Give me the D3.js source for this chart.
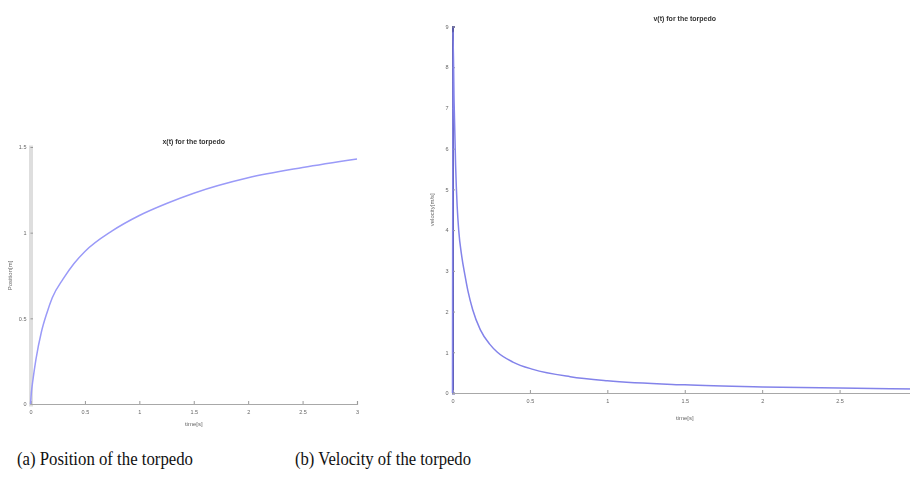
<!DOCTYPE html>
<html>
<head>
<meta charset="utf-8">
<script src="https://cdn.jsdelivr.net/npm/d3@7"></script>
<style>
  html, body { margin: 0; padding: 0; background: #fff; }
  svg { display: block; }
  .tick text { font-family: "Liberation Sans", Arial, sans-serif; font-size: 5.5px; fill: #666; }
</style>
</head>
<body>
<svg id="fig" width="910" height="479"></svg>
<script>
// Position of the torpedo over time
const posTime  = [0, 0.01, 0.02, 0.05, 0.1, 0.15, 0.2, 0.3, 0.4, 0.5, 0.75, 1, 1.25, 1.5, 2, 2.5, 3];
const posValue = [0, 0.08, 0.13, 0.26, 0.42, 0.53, 0.62, 0.73, 0.82, 0.89, 1.01, 1.1, 1.17, 1.23, 1.32, 1.38, 1.43];

// Velocity of the torpedo over time
const velTime  = [0, 0.003, 0.01, 0.02, 0.03, 0.04, 0.06, 0.08, 0.1, 0.13, 0.18, 0.24, 0.29, 0.39, 0.52, 0.76, 1, 1.5, 2, 2.5, 3];
const velValue = [0, 8.87, 7.2, 5.6, 4.6, 4.0, 3.35, 2.9, 2.5, 2.05, 1.55, 1.2, 1.0, 0.76, 0.58, 0.40, 0.30, 0.20, 0.15, 0.12, 0.1];

// Tick labels
const posTimeTicks = [0, 0.5, 1, 1.5, 2, 2.5, 3];
const velTimeTicks = [0, 0.5, 1, 1.5, 2, 2.5];
const posTicks  = [0, 0.5, 1, 1.5];
const velTicks  = [0, 1, 2, 3, 4, 5, 6, 7, 8, 9];

// Captions
const captions = ["(a) Position of the torpedo", "(b) Velocity of the torpedo"];

const svg = d3.select("#fig");

const defs = svg.append("defs");
defs.append("filter").attr("id", "soft")
  .append("feGaussianBlur").attr("stdDeviation", 0.55);

function drawPanel(cfg) {
  const g = svg.append("g").attr("filter", "url(#soft)");
  const x = d3.scaleLinear().domain([0, 3]).range([cfg.left, cfg.right]);
  const y = d3.scaleLinear().domain(cfg.yDomain).range([cfg.bottom, cfg.top]);

  // y axis
  const ya = g.append("g").attr("transform", `translate(${cfg.left},0)`)
    .call(d3.axisLeft(y).tickValues(cfg.yTicks).tickSize(-2.5).tickPadding(4)
      .tickFormat(d3.format("")));
  ya.select(".domain").attr("stroke", cfg.yAxisColor).attr("stroke-width", cfg.yAxisWidth);
  ya.selectAll(".tick line").attr("stroke", "#999");

  // x axis
  const xa = g.append("g").attr("transform", `translate(0,${cfg.bottom})`)
    .call(d3.axisBottom(x).tickValues(cfg.xTicks).tickSize(-3).tickPadding(6)
      .tickFormat(d3.format("")));
  xa.select(".domain").attr("stroke", "#a8a8a8").attr("stroke-width", 1.2);
  xa.selectAll(".tick line").attr("stroke", "#999");

  // curve
  const line = d3.line()
    .x((d, i) => x(cfg.t[i]))
    .y((d) => y(d))
    .curve(d3.curveMonotoneX);
  g.append("path").datum(cfg.v)
    .attr("d", line)
    .attr("fill", "none")
    .attr("stroke", cfg.lineColor)
    .attr("stroke-width", 1.5);

  // title
  g.append("text")
    .attr("x", (cfg.left + cfg.right) / 2).attr("y", cfg.titleY)
    .attr("text-anchor", "middle")
    .attr("font-family", "Liberation Sans, Arial, sans-serif")
    .attr("font-weight", "bold").attr("font-size", 7).attr("fill", "#333")
    .text(cfg.title);

  // x label
  g.append("text")
    .attr("x", (cfg.left + cfg.right) / 2).attr("y", cfg.xLabelY)
    .attr("text-anchor", "middle")
    .attr("font-family", "Liberation Sans, Arial, sans-serif")
    .attr("font-size", 6).attr("fill", "#666")
    .text("time[s]");

  // y label
  g.append("text")
    .attr("transform", `translate(${cfg.yLabelX},${(cfg.top + cfg.bottom) / 2}) rotate(-90)`)
    .attr("text-anchor", "middle")
    .attr("font-family", "Liberation Sans, Arial, sans-serif")
    .attr("font-size", 6).attr("fill", "#666")
    .text(cfg.yLabel);
}

drawPanel({
  left: 30.5, right: 357, top: 147, bottom: 404,
  yDomain: [0, 1.5], yTicks: posTicks, xTicks: posTimeTicks,
  yAxisColor: "#dedede", yAxisWidth: 4,
  t: posTime, v: posValue, lineColor: "#9a9af8",
  title: "x(t) for the torpedo", titleY: 144,
  xLabelY: 426, yLabel: "Position[m]", yLabelX: 12
});

drawPanel({
  left: 452.5, right: 917, top: 26.5, bottom: 393,
  yDomain: [0, 9], yTicks: velTicks, xTicks: velTimeTicks,
  yAxisColor: "#5a5aa8", yAxisWidth: 2,
  t: velTime, v: velValue, lineColor: "#8383ea",
  title: "v(t) for the torpedo", titleY: 21,
  xLabelY: 420, yLabel: "velocity[m/s]", yLabelX: 434
});

// captions below the panels
const capX = [17, 295];
svg.selectAll("text.caption").data(captions).join("text")
  .attr("class", "caption")
  .attr("x", (d, i) => capX[i]).attr("y", 465)
  .attr("font-family", "Liberation Serif, 'Times New Roman', serif")
  .attr("font-size", 18).attr("fill", "#111")
  .attr("textLength", 176).attr("lengthAdjust", "spacingAndGlyphs")
  .text(d => d);
</script>
</body>
</html>
